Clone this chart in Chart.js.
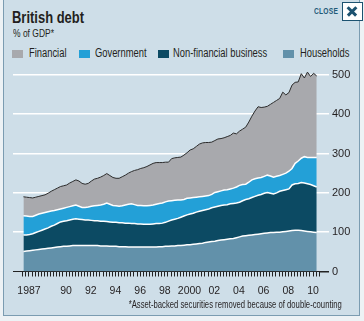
<!DOCTYPE html>
<html>
<head>
<meta charset="utf-8">
<script src="https://cdn.jsdelivr.net/npm/chart.js@4.4.0/dist/chart.umd.min.js"></script>
<style>
  html, body { margin: 0; padding: 0; }
  body {
    width: 364px; height: 321px; position: relative; overflow: hidden;
    background: #edf2f5;
    font-family: "Liberation Sans", Arial, sans-serif;
    color: #231f20;
  }
  #panel {
    position: absolute; left: 3px; top: -1px; width: 357px; height: 317px;
    box-sizing: border-box; background: #cedee8; border: 1px solid #7b9cb1;
  }
  /* narrow the text, the original face is a condensed one */
  .abs { position: absolute; white-space: nowrap; transform-origin: left top; }
  #title { left: 12px; top: 10px; font-size: 16px; line-height: 16px; font-weight: bold; transform: scaleX(0.81); }
  #sub { left: 13px; top: 28px; font-size: 11px; line-height: 11px; transform: scaleX(0.77); }
  .sw { position: absolute; top: 50px; width: 11px; height: 8px; }
  .lg { top: 47px; font-size: 12px; line-height: 12px; transform: scaleX(0.78); }
  #close { left: 314px; top: 7px; font-size: 9px; line-height: 9px; font-weight: bold; letter-spacing: 0.3px; color: #1f5a78; transform: scaleX(0.74); }
  #xbox {
    position: absolute; left: 342px; top: 2px; width: 21px; height: 19px;
    box-sizing: border-box; background: #fff; border: 1.5px solid #1c5270;
  }
  #xbox i {
    position: absolute; left: 3px; top: 7px; width: 12px; height: 2.6px; background: #1c5270;
  }
  #note { right: 22px; top: 300px; font-size: 10px; line-height: 10px; transform-origin: right top; transform: scaleX(0.77); }
  canvas { position: absolute; left: 0; top: 0; }
</style>
</head>
<body>
<div id="panel"></div>
<div id="title" class="abs">British debt</div>
<div id="sub" class="abs">% of GDP*</div>

<span class="sw" style="left:12px;background:#a8a9ad"></span>
<span class="abs lg" style="left:29px">Financial</span>
<span class="sw" style="left:79px;background:#23a0d7"></span>
<span class="abs lg" style="left:95px">Government</span>
<span class="sw" style="left:158px;background:#0c4a63"></span>
<span class="abs lg" style="left:173px">Non-financial business</span>
<span class="sw" style="left:283px;background:#6291aa"></span>
<span class="abs lg" style="left:300px">Households</span>

<div id="close" class="abs">CLOSE</div>
<div id="xbox"><i style="transform:rotate(45deg)"></i><i style="transform:rotate(-45deg)"></i></div>

<canvas id="debtChart" width="364" height="321"></canvas>
<div id="note" class="abs">*Asset-backed securities removed because of double-counting</div>

<script>
// quarterly values, % of GDP, Q1 1987 - Q4 2010
const years = [1987,1988,1989,1990,1991,1992,1993,1994,1995,1996,1997,1998,
               1999,2000,2001,2002,2003,2004,2005,2006,2007,2008,2009,2010]

const households = [
  51,52,53,54, 55,56,57,58, 59,60,61,62, 63,64,64,65, 66,66,66,66, 66,66,66,66,
  66,65,65,65, 64,64,64,63, 63,63,62,62, 62,62,62,62, 62,62,62,62, 63,63,64,64,
  65,65,66,66, 67,68,68,69, 70,71,72,74, 75,76,77,79, 80,81,82,83, 84,86,88,90,
  91,92,93,94, 95,96,97,98, 99,99,100,100, 101,102,103,104, 105,105,104,103, 102,101,100,99
]
const nonFinancial = [
  42,41,41,42, 44,46,48,50, 52,55,57,60, 63,64,65,66, 67,68,67,66, 65,65,64,63,
  63,63,63,62, 62,61,61,61, 61,60,61,60, 60,59,59,58, 58,58,59,60, 59,60,61,64,
  66,68,69,72, 74,76,78,79, 81,82,83,83, 84,86,87,87, 88,88,88,89, 89,88,88,90,
  92,93,95,97, 99,100,102,103, 100,98,100,104, 105,106,107,116, 118,119,122,122, 121,120,118,116
]
const government = [
  49,48,46,44, 44,44,43,42, 41,39,37,35, 33,33,34,34, 34,35,33,31, 32,33,36,38,
  39,41,43,47, 45,43,42,42, 43,46,48,50, 48,47,47,47, 47,48,48,49, 51,51,52,51,
  49,48,47,44, 42,42,41,40, 38,37,36,35, 34,34,37,37, 37,38,38,38, 39,41,43,41,
  39,42,45,45, 44,43,43,44, 44,43,42,40, 41,42,45,42, 52,57,62,67, 67,69,72,75
]
const financial = [
  48,48,48,47, 46,45,45,45, 47,50,53,55, 57,57,57,60, 62,64,64,61, 59,60,64,68,
  69,71,73,75, 73,71,70,71, 74,76,79,82, 87,91,94,97, 100,103,106,106, 104,103,101,99,
  107,108,108,109, 113,116,122,124, 129,134,136,136, 135,133,132,134, 133,133,135,136, 140,135,138,141,
  145,153,162,172, 181,178,176,175, 182,190,193,196, 209,199,200,212, 206,201,215,200, 217,206,214,207
]

const yTicks = [0, 100, 200, 300, 400, 500]
const labelYears = [1987, 1990, 1992, 1994, 1996, 1998, 2000, 2002, 2004, 2006, 2008, 2010]

const toPoints = (arr) => arr.map((v, i) => ({
  x: years[Math.floor(i / 4)] + (i % 4) / 4 + 0.05,
  y: v
}))

const band = (label, arr, color, line, width, fill) => ({
  label: label,
  data: toPoints(arr),
  backgroundColor: color,
  borderColor: line,
  borderWidth: width,
  fill: fill,
  pointRadius: 0,
  tension: 0
})

const font = '"Liberation Sans", Arial, sans-serif'

new Chart(document.getElementById('debtChart'), {
  type: 'line',
  data: {
    datasets: [
      band('Households', households, '#6291aa', '#ffffff', 1.5, 'origin'),
      band('Non-financial business', nonFinancial, '#0c4a63', '#ffffff', 1.5, '-1'),
      band('Government', government, '#23a0d7', '#ffffff', 1.5, '-1'),
      band('Financial', financial, '#a8a9ad', '#2b2b2b', 1, '-1')
    ]
  },
  options: {
    responsive: false,
    animation: false,
    devicePixelRatio: 1,
    layout: { padding: { left: 13, right: 4, top: 67, bottom: 0 } },
    plugins: { legend: { display: false }, tooltip: { enabled: false } },
    scales: {
      x: {
        type: 'linear',
        z: 1,
        min: 1986.206,
        max: 2011.065,
        afterBuildTicks: (scale) => {
          let t = []
          for (let y = years[0]; y <= years[years.length - 1] + 1; y += 0.25) t.push({ value: y })
          scale.ticks = t
        },
        afterFit: (scale) => { scale.height = 49.5 },
        grid: { drawOnChartArea: false, tickLength: 5, color: '#222', tickColor: '#222' },
        border: { display: true, color: '#222', width: 1 },
        ticks: {
          autoSkip: false,
          maxRotation: 0,
          padding: 8,
          color: '#231f20',
          font: { family: font, size: 10.5 },
          callback: (value) => {
            let y = Math.round(value - 0.5)
            if (Math.abs(value - 0.5 - y) > 0.01 || !labelYears.includes(y)) return ''
            return (y === 1987 || y === 2000) ? String(y) : String(y).slice(2)
          }
        }
      },
      y: {
        position: 'right',
        stacked: true,
        min: 0,
        max: 520,
        afterBuildTicks: (scale) => { scale.ticks = yTicks.map(v => ({ value: v })) },
        afterFit: (scale) => { scale.width = 40 },
        grid: {
          lineWidth: 1.5,
          tickLength: 9,
          color: (c) => c.tick && c.tick.value === 0 ? 'rgba(0,0,0,0)' : '#ffffff',
          tickColor: (c) => c.tick && c.tick.value === 0 ? '#222' : '#ffffff'
        },
        border: { display: false },
        ticks: {
          padding: 3,
          color: '#231f20',
          font: { family: font, size: 11 }
        }
      }
    }
  }
})
</script>
</body>
</html>
